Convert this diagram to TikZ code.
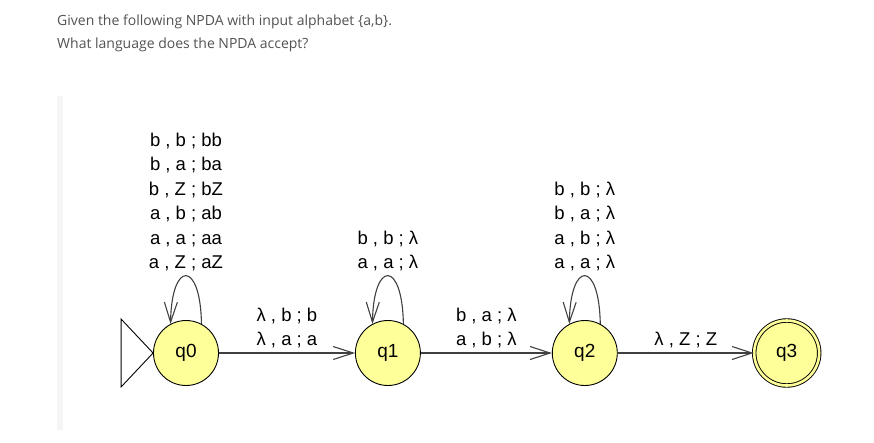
\documentclass[tikz,border=0pt]{standalone}
\usepackage{fontspec}
\setmainfont{Liberation Sans}
\newfontfamily\questionfont{Open Sans}
\usetikzlibrary{positioning,arrows.meta}
\definecolor{stateYellow}{RGB}{255,255,153}
\colorlet{edgeGray}{black!75}
\colorlet{questionGray}{black!68}
\colorlet{stripGray}{black!4}

\begin{document}
\begin{tikzpicture}[x=1pt, y=-1pt,
    every node/.style={font=\fontsize{18.5}{24.5}\selectfont, align=center},
    npdastate/.style={draw, fill=stateYellow, circle, minimum size=65pt, inner sep=0pt, line width=0.9pt, font=\fontsize{19}{19}\selectfont},
    trans/.style={draw=edgeGray, line width=1.1pt, -{Straight Barb[length=20pt, width=13pt, line width=1.1pt]}},
    question/.style={anchor=base west, inner sep=0pt, text=questionGray, font=\questionfont\fontsize{14}{20}\selectfont},
    node distance=136pt]
  \useasboundingbox (0,0) rectangle (874,442);
  \fill[stripGray] (57,96) rectangle (63,430);

  \node[question] (line1) at (57,25) {Given the following NPDA with input alphabet \{a,b\}.};
  \node[question] (line2) at (57,48) {What language does the NPDA accept?};

  \node[npdastate] (q0) at (186,353) {q0};
  \node[npdastate, right=136pt of q0] (q1) {q1};
  \node[npdastate, right=131pt of q1] (q2) {q2};
  \node[npdastate, right=136pt of q2, double=stateYellow, double distance=2.6pt] (q3) {q3};

  % start marker
  \draw[line width=0.9pt] (q0.west) -- ++(-32,-34) -- ++(0,68) -- cycle;

  \draw[trans] (q0) -- node[above=1pt] {λ , b ; b\\λ , a ; a} (q1);
  \draw[trans] (q1) -- node[above=1pt] {b , a ; λ\\a , b ; λ} (q2);
  \draw[trans] (q2) -- node[above=1pt] {λ , Z ; Z} (q3);

  % self loops
  \draw[trans] (q0.62) .. controls +(-1,-64) and +(1,-64) .. node[above=1pt]
      {b , b ; bb\\b , a ; ba\\b , Z ; bZ\\a , b ; ab\\a , a ; aa\\a , Z ; aZ} (q0.118);
  \draw[trans] (q1.62) .. controls +(-1,-64) and +(1,-64) .. node[above=1pt]
      {b , b ; λ\\a , a ; λ} (q1.118);
  \draw[trans] (q2.62) .. controls +(-1,-64) and +(1,-64) .. node[above=1pt]
      {b , b ; λ\\b , a ; λ\\a , b ; λ\\a , a ; λ} (q2.118);
\end{tikzpicture}
\end{document}
